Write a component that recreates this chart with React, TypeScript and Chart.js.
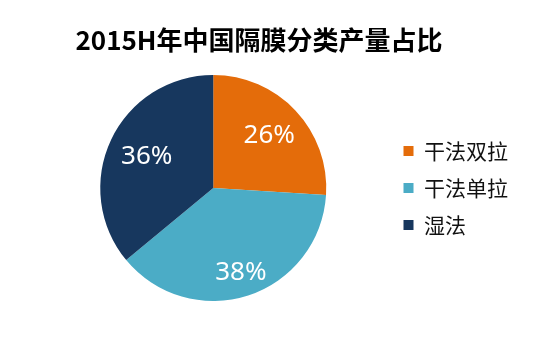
import React, { useEffect, useRef } from "react";
import { Chart, registerables } from "chart.js";

Chart.register(...registerables);

const TITLE = "2015H年中国隔膜分类产量占比";
const categories = ["干法双拉", "干法单拉", "湿法"];
const shares = [26, 38, 36];
const colors = ["#E46C0A", "#4BACC6", "#17375E"];
const labelRadius = [0.68, 0.79, 0.65];

const pctPlugin = {
  id: "pctLabels",
  afterDatasetsDraw(chart: any) {
    const ctx = chart.ctx;
    const meta = chart.getDatasetMeta(0);
    ctx.save();
    ctx.font = '26px "Noto Sans", sans-serif';
    ctx.fillStyle = "#ffffff";
    ctx.textAlign = "center";
    ctx.textBaseline = "middle";
    meta.data.forEach((arc: any, i: number) => {
      const { x, y, startAngle, endAngle, outerRadius } = arc.getProps(
        ["x", "y", "startAngle", "endAngle", "outerRadius"],
        true
      );
      const mid = (startAngle + endAngle) / 2;
      const r = outerRadius * labelRadius[i];
      ctx.fillText(shares[i] + "%", x + Math.cos(mid) * r, y + Math.sin(mid) * r);
    });
    ctx.restore();
  },
};

export default function App() {
  const ref = useRef<HTMLCanvasElement>(null);
  useEffect(() => {
    if (!ref.current) return;
    const chart = new Chart(ref.current, {
      type: "pie",
      data: {
        labels: categories,
        datasets: [
          {
            data: shares,
            backgroundColor: colors,
            borderWidth: 0,
          },
        ],
      },
      options: {
        responsive: false,
        animation: false,
        layout: { padding: { left: 39, right: 38, top: 75, bottom: 46 } },
        plugins: {
          title: { display: false },
          legend: {
            position: "right",
            labels: {
              boxWidth: 10,
              boxHeight: 10,
              padding: 16,
              color: "#111111",
              font: { family: '"Noto Sans CJK SC", sans-serif', size: 21 },
            },
          },
          tooltip: { enabled: false },
        },
      },
      plugins: [pctPlugin],
    });
    return () => chart.destroy();
  }, []);
  return (
    <div style={{ position: "fixed", left: 0, top: 0, width: 556, height: 347, background: "#ffffff" }}>
      <canvas ref={ref} width={556} height={347} style={{ position: "absolute", left: 0, top: 0 }} />
      <div
        style={{
          position: "absolute",
          left: 0,
          top: 26,
          width: 518,
          textAlign: "center",
          fontFamily: '"Noto Sans CJK SC", sans-serif',
          fontWeight: "bold",
          fontSize: 26,
          lineHeight: "26px",
          color: "#000000",
          whiteSpace: "nowrap",
        }}
      >
        {TITLE}
      </div>
    </div>
  );
}
